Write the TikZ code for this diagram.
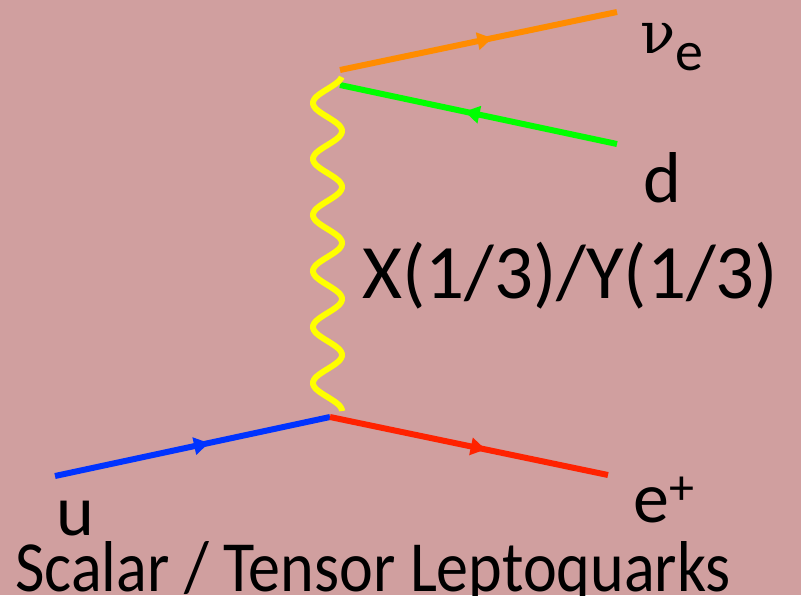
\documentclass[tikz,border=0pt]{standalone}
\usepackage{fontspec}
\setmainfont{Carlito}
\newfontfamily\nufont{DejaVu Serif}
\usetikzlibrary{arrows.meta,decorations.markings}
\definecolor{lqback}{RGB}{208,159,159}
\definecolor{lqorange}{RGB}{255,140,0}
\definecolor{lqgreen}{RGB}{0,255,0}
\definecolor{lqblue}{RGB}{0,51,255}
\definecolor{lqred}{RGB}{255,34,0}
\definecolor{lqyellow}{RGB}{255,255,0}
\tikzset{
  lqline/.style={line width=6pt},
  lqarrow/.style={postaction={decorate, decoration={markings,
    mark=at position #1 with {\arrow{Triangle[length=15pt,width=17pt]}}}}},
  lqwave/.style={lqyellow, line width=6pt},
  lqlabel/.style={inner sep=0pt, anchor=base west,
    font=\fontsize{72}{80}\selectfont},
}

\begin{document}
\begin{tikzpicture}[x=1pt,y=-1pt]
  \fill[lqback] (0,0) rectangle (801,595);
  \useasboundingbox (0,0) rectangle (801,595);
  % vertices and free ends
  \coordinate (nuv) at (340,70);
  \coordinate (dv) at (340,85);
  \coordinate (bot) at (330,417);
  \coordinate (nuend) at (617,12);
  \coordinate (dend) at (617,144);
  \coordinate (uend) at (55,476);
  \coordinate (eend) at (608,475);
  % fermion lines
  \draw[lqline, lqorange, lqarrow=0.55] (nuv) -- (nuend);
  \draw[lqline, lqgreen, lqarrow=0.55] (dend) -- (dv);
  \draw[lqline, lqblue, lqarrow=0.56] (uend) -- (bot);
  \draw[lqline, lqred, lqarrow=0.56] (bot) -- (eend);
  % leptoquark
  \draw[lqwave] plot[domain=77:411, samples=240]
    ({327.5+14.5*cos(6.4286*(\x-75))}, \x);
  % labels
  \node[lqlabel] (nu) at (640,53) {{\nufont\fontsize{58}{64}\selectfont ν}\raisebox{-17pt}{\fontsize{56}{60}\selectfont e}};
  \node[lqlabel] (d) at (643,202) {d};
  \node[lqlabel, font=\fontsize{77}{84}\selectfont] (lq) at (362,298) {X(1/3)/Y(1/3)};
  \node[lqlabel] (ep) at (633,522) {e\raisebox{18pt}{\fontsize{50}{60}\selectfont +}};
  \node[lqlabel] (u) at (56,535) {u};
  \node[lqlabel] (title) at (15,591) {\scalebox{0.89}[1]{Scalar / Tensor Leptoquarks}};
\end{tikzpicture}
\end{document}
